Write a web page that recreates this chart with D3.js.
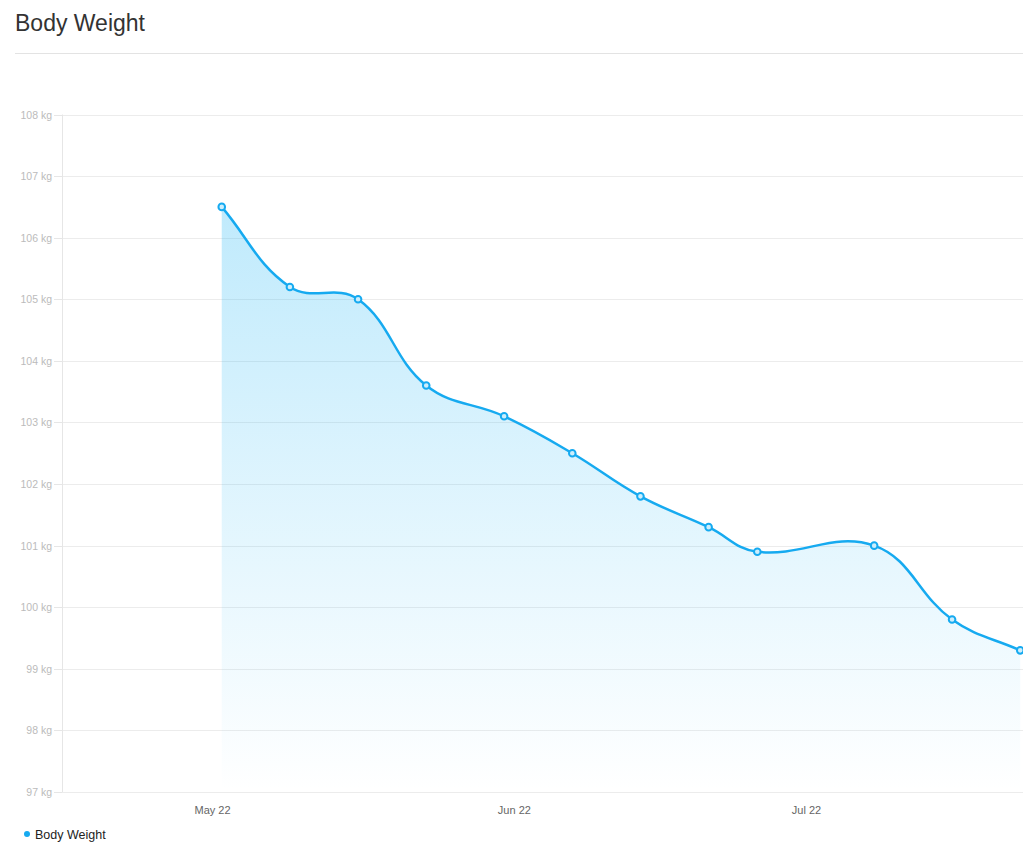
<!DOCTYPE html>
<html>
<head>
<meta charset="utf-8">
<script src="https://cdn.jsdelivr.net/npm/d3@7"></script>
<style>
  html, body { margin: 0; padding: 0; background: #fff; }
  svg { display: block; font-family: "Liberation Sans", Arial, Helvetica, sans-serif; }
</style>
</head>
<body>
<svg id="chart" width="1023" height="849"></svg>
<script>
// ---- data ----
const title = "Body Weight";
const seriesName = "Body Weight";
const dates = ["2022-05-02", "2022-05-09", "2022-05-16", "2022-05-23", "2022-05-31", "2022-06-07",
               "2022-06-14", "2022-06-21", "2022-06-26", "2022-07-08", "2022-07-16", "2022-07-23"];
const weights = [106.5, 105.2, 105.0, 103.6, 103.1, 102.5, 101.8, 101.3, 100.9, 101.0, 99.8, 99.3];
const xTickDates = ["2022-05-01", "2022-06-01", "2022-07-01"];
const yTicks = [97, 98, 99, 100, 101, 102, 103, 104, 105, 106, 107, 108];

// ---- layout ----
const W = 1023, H = 849;
const plot = { left: 62, right: 1023, top: 114.5, bottom: 792 };
const lineColor = "#16aaf0";

const parse = d3.utcParse("%Y-%m-%d");
const data = dates.map((d, i) => ({ date: parse(d), value: weights[i] }));

const svg = d3.select("#chart");

// title and rule
svg.append("text").attr("x", 15).attr("y", 31)
  .attr("font-size", 23).attr("fill", "#333").text(title);
svg.append("line").attr("x1", 15).attr("x2", W).attr("y1", 53.5).attr("y2", 53.5)
  .attr("stroke", "#e3e3e3").attr("stroke-width", 1);

// scales
const x = d3.scaleUtc()
  .domain([parse(xTickDates[0]), parse(xTickDates[2])])
  .range([212, 806]);
const y = d3.scaleLinear().domain([97, 108]).range([plot.bottom, plot.top]);

// gridlines + y axis
const yAxis = d3.axisLeft(y).tickValues(yTicks).tickSize(8).tickPadding(2)
  .tickFormat(d => d + " kg");
const gy = svg.append("g").attr("transform", `translate(${plot.left},0)`).call(yAxis);
gy.select(".domain").remove();
gy.selectAll(".tick line").attr("stroke", "#e6e6e6");
gy.selectAll(".tick text").attr("fill", "#bbbbbb").attr("font-size", 10.5)
  .attr("font-family", "'Liberation Sans', Arial, sans-serif");

svg.append("g").selectAll("line").data(yTicks).join("line")
  .attr("x1", plot.left).attr("x2", plot.right)
  .attr("y1", d => Math.round(y(d)) + 0.5).attr("y2", d => Math.round(y(d)) + 0.5)
  .attr("stroke", "#ececec").attr("stroke-width", 1);
gy.selectAll(".tick").attr("transform", d => `translate(0,${Math.round(y(d)) + 0.5})`);

svg.append("line").attr("x1", plot.left + 0.5).attr("x2", plot.left + 0.5)
  .attr("y1", plot.top).attr("y2", plot.bottom)
  .attr("stroke", "#e6e6e6").attr("stroke-width", 1);

// x axis
const xAxis = d3.axisBottom(x).tickValues(xTickDates.map(parse)).tickSize(0).tickPadding(14)
  .tickFormat(d3.utcFormat("%b %y"));
const gx = svg.append("g").attr("transform", `translate(0,${plot.bottom})`).call(xAxis);
gx.select(".domain").remove();
gx.selectAll(".tick text").attr("fill", "#666").attr("font-size", 11)
  .attr("font-family", "'Liberation Sans', Arial, sans-serif");

// Chart.js-like spline curve (tension 0.4)
function ChartJsCurve(context) { this._context = context; }
ChartJsCurve.prototype = {
  areaStart() { this._line = 0; },
  areaEnd() { this._line = NaN; },
  lineStart() { this._pts = []; },
  point(px, py) { this._pts.push([+px, +py]); },
  lineEnd() {
    const p = this._pts, n = p.length, c = this._context, t = 0.4;
    if (n) {
      this._line ? c.lineTo(p[0][0], p[0][1]) : c.moveTo(p[0][0], p[0][1]);
      const cp1 = [], cp2 = [];
      for (let i = 0; i < n; i++) {
        const prev = p[Math.max(0, i - 1)], cur = p[i], next = p[Math.min(n - 1, i + 1)];
        const d01 = Math.hypot(cur[0] - prev[0], cur[1] - prev[1]);
        const d12 = Math.hypot(next[0] - cur[0], next[1] - cur[1]);
        let s01 = d01 / (d01 + d12), s12 = d12 / (d01 + d12);
        if (!isFinite(s01)) s01 = 0;
        if (!isFinite(s12)) s12 = 0;
        const fa = t * s01, fb = t * s12;
        cp1.push([cur[0] - fa * (next[0] - prev[0]), cur[1] - fa * (next[1] - prev[1])]);
        cp2.push([cur[0] + fb * (next[0] - prev[0]), cur[1] + fb * (next[1] - prev[1])]);
      }
      for (let i = 1; i < n; i++) {
        c.bezierCurveTo(cp2[i - 1][0], cp2[i - 1][1], cp1[i][0], cp1[i][1], p[i][0], p[i][1]);
      }
    }
    if (this._line || (this._line !== 0 && n === 1)) c.closePath();
    this._line = 1 - this._line;
  }
};
const chartJsCurve = ctx => new ChartJsCurve(ctx);

// gradient fill
const defs = svg.append("defs");
const grad = defs.append("linearGradient").attr("id", "fillGrad")
  .attr("gradientUnits", "userSpaceOnUse")
  .attr("x1", 0).attr("x2", 0).attr("y1", plot.top).attr("y2", plot.bottom);
grad.append("stop").attr("offset", 0).attr("stop-color", "#1ab4f5").attr("stop-opacity", 0.32);
grad.append("stop").attr("offset", 1).attr("stop-color", "#1ab4f5").attr("stop-opacity", 0.0);

const area = d3.area().x(d => x(d.date)).y0(plot.bottom).y1(d => y(d.value)).curve(chartJsCurve);
svg.append("path").datum(data).attr("d", area).attr("fill", "url(#fillGrad)");

const line = d3.line().x(d => x(d.date)).y(d => y(d.value)).curve(chartJsCurve);
svg.append("path").datum(data).attr("d", line)
  .attr("fill", "none").attr("stroke", lineColor).attr("stroke-width", 2.5);

svg.append("g").selectAll("circle").data(data).join("circle")
  .attr("cx", d => x(d.date)).attr("cy", d => y(d.value)).attr("r", 3.3)
  .attr("fill", "#cdeefc").attr("stroke", lineColor).attr("stroke-width", 2);

// legend
svg.append("circle").attr("cx", 27).attr("cy", 834).attr("r", 3).attr("fill", lineColor);
svg.append("text").attr("x", 35).attr("y", 838.5).attr("font-size", 12.5)
  .attr("fill", "#222").text(seriesName);
</script>
</body>
</html>
